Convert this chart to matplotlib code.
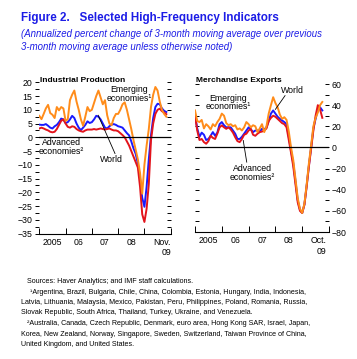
import numpy as np
import matplotlib
matplotlib.use("Agg")
import matplotlib.pyplot as plt
from matplotlib import font_manager
from matplotlib.ticker import FixedLocator, NullFormatter, FixedFormatter

# fuente: usar la version angosta si esta instalada
nombres = {f.name for f in font_manager.fontManager.ttflist}
fuente = 'Liberation Sans Narrow' if 'Liberation Sans Narrow' in nombres else 'Liberation Sans'
plt.rcParams['font.family'] = [fuente, 'DejaVu Sans']

# Industrial production, ene 2005 - nov 2009 (mensual)
ip_emerging = [7.8, 6.6, 8.5, 10.5, 11.8, 8.8, 8.2, 7.0, 11.0, 9.8, 11.0, 10.5,
               6.0, 6.5, 13.5, 15.5, 17.0, 13.0, 10.0, 6.5, 4.2, 7.5, 11.0, 9.5,
               10.0, 12.5, 15.0, 17.0, 14.5, 12.0, 13.5, 8.0, 5.0, 4.4, 7.0, 8.5,
               8.5, 10.0, 12.0, 12.7, 10.0, 6.5, 3.0, -1.0, -4.5, -8.0, -13.0, -20.5,
               -10.0, -3.0, 3.0, 11.0, 15.5, 18.3, 17.0, 13.0, 10.0, 8.5, 7.5]
ip_world = [4.6, 4.5, 4.5, 4.8, 4.2, 3.5, 3.2, 4.0, 4.5, 5.5, 6.8, 6.5,
            5.2, 5.5, 6.5, 7.8, 7.0, 5.0, 3.5, 2.6, 3.5, 4.5, 5.8, 5.2,
            5.5, 6.5, 7.8, 7.5, 6.5, 5.0, 3.5, 3.2, 4.0, 4.6, 4.8, 4.5,
            4.0, 3.8, 3.5, 2.5, 1.5, 0.7, -1.5, -4.0, -6.0, -9.5, -15.0, -22.0,
            -25.3, -18.0, -8.0, 0.7, 7.0, 11.0, 12.2, 12.0, 10.5, 9.6, 9.2]
ip_advanced = [3.2, 3.5, 3.2, 2.8, 2.5, 2.0, 1.8, 2.0, 3.0, 4.5, 6.0, 6.5,
               5.0, 3.8, 3.5, 4.0, 3.8, 3.0, 2.5, 2.2, 2.0, 2.5, 2.8, 2.8,
               2.8, 3.0, 2.8, 3.0, 3.2, 3.0, 2.8, 3.0, 3.2, 2.8, 2.5, 2.5,
               2.2, 1.5, 0.8, 0.0, -1.5, -3.0, -5.0, -7.0, -9.0, -11.0, -18.0, -28.0,
               -30.8, -26.0, -17.0, -1.0, 5.0, 8.5, 10.0, 10.4, 9.5, 9.0, 8.4]

# Merchandise exports, ene 2005 - oct 2009 (mensual)
ex_emerging = [35, 25, 24, 26, 18, 22, 20, 17, 22, 20, 24, 27,
               32, 30, 23, 21, 22, 20, 21, 17, 18, 16, 19, 24,
               22, 19, 21, 20, 14.5, 18, 22, 14.5, 20, 32, 40, 47.5,
               42, 38, 31, 27, 28.6, 26, 15, 0, -12, -30, -48, -58,
               -62, -53, -35, -15, 2, 20, 28, 33, 40, 43]
ex_world = [31, 18, 10, 14, 12, 7, 8, 11, 14.5, 11, 14, 22,
            24, 21, 19, 19, 19, 16, 13, 8, 8, 10, 13, 16,
            19, 17, 14.5, 16, 16, 15, 17.6, 17, 19, 25, 32, 35,
            32, 29, 27, 25.5, 24, 22, 10, -3, -15, -32, -50, -59,
            -62, -54, -36, -17, 0, 18, 27, 36, 38, 35]
ex_advanced = [30, 16, 7, 8, 5, 3.5, 6, 11, 9, 8, 13, 19,
               20.8, 19, 17.6, 19, 17, 14, 9.7, 6, 5, 8, 12, 13,
               16, 17.6, 12, 11, 13, 14.5, 15, 16, 18, 25, 28, 30,
               29, 27, 25, 23, 22, 19, 7, -5, -18, -35, -52, -60,
               -62, -54, -37, -18, -1, 16, 30, 40, 36, 28]

ip_xlabels = ['2005', '06', '07', '08', 'Nov.\n09']
ex_xlabels = ['2005', '06', '07', '08', 'Oct.\n09']

azul = '#1c1ce6'
naranja = '#ff8c1a'
rojo = '#e3141c'
azul_linea = '#1a1aff'

fig = plt.figure(figsize=(3.57, 3.59), dpi=100)

ax1 = fig.add_axes([39.3/357, 1-233.5/359, 131.4/357, 151.2/359])
ax2 = fig.add_axes([195/357, 1-232/359, 134/357, 148/359])

fs_tick = 6.3
fs_panel = 6.0

def estilo(ax, labels, label_pos):
  for s in ['top', 'left', 'right']:
    ax.spines[s].set_visible(False)
  ax.spines['bottom'].set_linewidth(0.8)
  ax.set_xlim(2005, 2010)
  ax.xaxis.set_major_locator(FixedLocator([2005, 2006, 2007, 2008, 2009, 2010]))
  ax.xaxis.set_major_formatter(NullFormatter())
  ax.xaxis.set_minor_locator(FixedLocator(label_pos))
  ax.xaxis.set_minor_formatter(FixedFormatter(labels))
  ax.tick_params(axis='x', which='major', direction='in', length=4, width=0.7)
  ax.tick_params(axis='x', which='minor', length=0, pad=3, labelsize=fs_tick)
  for t in ax.xaxis.get_minorticklabels():
    t.set_multialignment('right')
  ax.axhline(0, color='black', lw=0.9)

# --- Industrial production
meses_ip = 2005 + np.arange(len(ip_world)) / 12
ax1.plot(meses_ip, ip_world, color=azul_linea, lw=1.4)
ax1.plot(meses_ip, ip_advanced, color=rojo, lw=1.4)
ax1.plot(meses_ip, ip_emerging, color=naranja, lw=1.4)
ax1.set_ylim(-35, 20)
estilo(ax1, ip_xlabels, [2005.5, 2006.5, 2007.5, 2008.5, 2009.68])
ax1.set_yticks(np.arange(-35, 21, 5))
ax1.set_yticks(np.arange(-35, 21, 2.5), minor=True)
ax1.tick_params(axis='y', which='both', left=True, right=True, direction='out', length=3, width=0.7)
ax1.tick_params(axis='y', which='both', right=True, labelright=False)
ax1.yaxis.set_tick_params(which='both', labelsize=fs_tick, pad=2)
for t in ax1.yaxis.get_ticklines(minor=False)[1::2] + ax1.yaxis.get_ticklines(minor=True)[1::2]:
  t.set_marker(matplotlib.markers.TICKLEFT)

ax1.text(0.005, 1.015, 'Industrial Production', transform=ax1.transAxes, fontsize=fs_panel, fontweight='bold', va='center', ha='left')
ax1.text(2008.41, 15.8, 'Emerging\neconomies\u00b9', fontsize=fs_tick, ha='center', va='center', linespacing=0.95)
ax1.text(2005.83, -3.5, 'Advanced\neconomies\u00b2', fontsize=fs_tick, ha='center', va='center', linespacing=0.95)
ax1.text(2007.74, -8.1, 'World', fontsize=fs_tick, ha='center', va='center')
ax1.plot([2007.24, 2007.88], [8.0, -5.9], color='black', lw=0.6)

# --- Merchandise exports
meses_ex = 2005 + np.arange(len(ex_world)) / 12
ax2.plot(meses_ex, ex_world, color=azul_linea, lw=1.4)
ax2.plot(meses_ex, ex_advanced, color=rojo, lw=1.4)
ax2.plot(meses_ex, ex_emerging, color=naranja, lw=1.4)
ax2.set_ylim(-80, 60)
estilo(ax2, ex_xlabels, [2005.5, 2006.5, 2007.5, 2008.5, 2009.6])
ax2.set_yticks(np.arange(-80, 61, 20))
ax2.set_yticks(np.arange(-80, 61, 10), minor=True)
ax2.tick_params(axis='y', which='both', left=True, right=True, labelleft=False, labelright=True,
                direction='in', length=3, width=0.7, labelsize=fs_tick, pad=2)

ax2.text(0.005, 1.025, 'Merchandise Exports', transform=ax2.transAxes, fontsize=fs_panel, fontweight='bold', va='center', ha='left')
ax2.text(2006.25, 42.5, 'Emerging\neconomies\u00b9', fontsize=fs_tick, ha='center', va='center', linespacing=0.95)
ax2.text(2008.65, 53.8, 'World', fontsize=fs_tick, ha='center', va='center')
ax2.plot([2008.0, 2008.36], [36, 49], color='black', lw=0.6)
ax2.text(2007.13, -24, 'Advanced\neconomies\u00b2', fontsize=fs_tick, ha='center', va='center', linespacing=0.95)
ax2.plot([2006.8, 2006.93], [6.6, -13.9], color='black', lw=0.6)

# --- encabezado
fig.text(20.7/357, 0.949, 'Figure 2.   Selected High-Frequency Indicators', color=azul,
         fontsize=8.35, fontweight='bold', ha='left', va='center')
fig.text(20.7/357, 0.904, '(Annualized percent change of 3-month moving average over previous',
         color=azul, fontsize=6.9, style='italic', ha='left', va='center')
fig.text(20.7/357, 0.870, '3-month moving average unless otherwise noted)',
         color=azul, fontsize=6.9, style='italic', ha='left', va='center')

# --- notas
notas = [
  (27.3, 'Sources: Haver Analytics; and IMF staff calculations.'),
  (30.0, '\u00b9Argentina, Brazil, Bulgaria, Chile, China, Colombia, Estonia, Hungary, India, Indonesia,'),
  (20.7, 'Latvia, Lithuania, Malaysia, Mexico, Pakistan, Peru, Philippines, Poland, Romania, Russia,'),
  (20.7, 'Slovak Republic, South Africa, Thailand, Turkey, Ukraine, and Venezuela.'),
  (27.3, '\u00b2Australia, Canada, Czech Republic, Denmark, euro area, Hong Kong SAR, Israel, Japan,'),
  (20.7, 'Korea, New Zealand, Norway, Singapore, Sweden, Switzerland, Taiwan Province of China,'),
  (20.7, 'United Kingdom, and United States.'),
]
ys = [281.7, 292.3, 302.7, 312.7, 323.3, 334.0, 344.3]
for (x, txt), y in zip(notas, ys):
  fig.text(x/357, 1-y/359, txt, fontsize=5.15, ha='left', va='center')

fig.savefig('out.png', dpi=100)
